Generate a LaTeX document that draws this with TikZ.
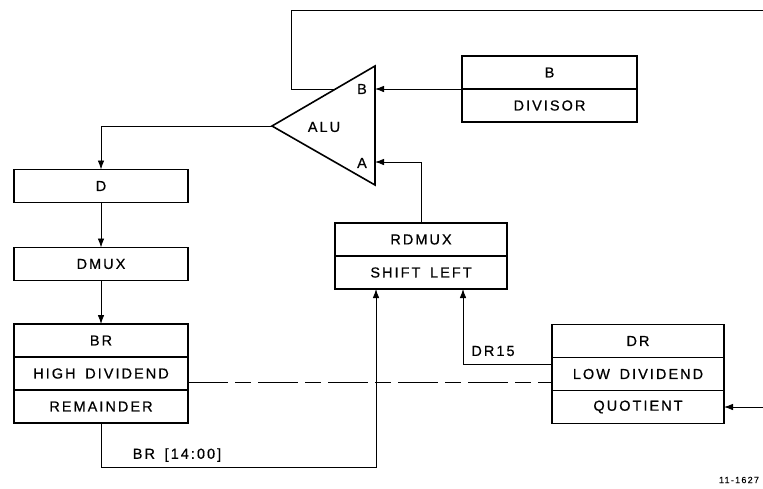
\documentclass[tikz,border=0pt]{standalone}
\usepackage{fontspec}
\setmainfont{Liberation Sans}[LetterSpace=14,FakeBold=0.6,WordSpace=1.6]
\usetikzlibrary{arrows.meta}
\tikzset{
  cell/.style  = {draw,line width=1.6pt,minimum height=33pt,inner sep=0pt,outer sep=0pt,
                  font=\fontsize{14.5}{16}\selectfont},
  wire/.style  = {line width=0.8pt},
  arr/.style   = {wire,-{Latex[length=9pt,width=6.5pt]}},
  dwire/.style = {wire,dash pattern=on 40pt off 7pt on 16pt off 7pt},
  tag/.style   = {inner sep=1pt,font=\fontsize{14.5}{16}\selectfont}
}

\begin{document}
\begin{tikzpicture}[x=1pt,y=-1pt]
  \useasboundingbox (0,0) rectangle (763,488);
  % ALU
  \coordinate (aluTip) at (272,126);
  \coordinate (aluTop) at (375,66);
  \coordinate (aluBot) at (375,185);
  \coordinate (aluB)   at (375,89);
  \coordinate (aluA)   at (375,162);
  \coordinate (aluFb)  at (335.5,89);
  \draw[line width=1.6pt,line join=miter] (aluTip) -- (aluTop) -- (aluBot) -- cycle;
  \node[tag] (aluName) at (324,127) {ALU};
  \node[tag,anchor=east] (aluBName) at (368,89) {B};
  \node[tag,anchor=east] (aluAName) at (368,163) {A};
  % registers
  \node[cell,minimum width=175pt] (b1) at (549.5,72.5) {B};
  \node[cell,minimum width=175pt] (b2) at (549.5,105.5) {DIVISOR};
  \node[cell,minimum width=174pt] (d) at (101,186) {D};
  \node[cell,minimum width=174pt] (dmux) at (101,264) {DMUX};
  \node[cell,minimum width=174pt] (br1) at (101,340.5) {BR};
  \node[cell,minimum width=174pt] (br2) at (101,373.5) {HIGH DIVIDEND};
  \node[cell,minimum width=174pt] (br3) at (101,406.5) {REMAINDER};
  \node[cell,minimum width=172pt] (rd1) at (421,239.5) {RDMUX};
  \node[cell,minimum width=172pt] (rd2) at (421,272.5) {SHIFT LEFT};
  \node[cell,minimum width=172pt] (dr1) at (638,341) {DR};
  \node[cell,minimum width=172pt] (dr2) at (638,374) {LOW DIVIDEND};
  \node[cell,minimum width=172pt] (dr3) at (638,407) {QUOTIENT};
  % connectors
  \coordinate (topRun) at (763,10);
  \draw[wire] (aluFb) -- (291,89) |- (topRun);
  \draw[arr] (b1.south west) -- (aluB);
  \draw[arr] (rd1.north) |- (aluA);
  \draw[arr] (aluTip) -| (d.north);
  \draw[arr] (d) -- (dmux);
  \draw[arr] (dmux) -- (br1);
  \coordinate (brTurn) at (376,467);
  \draw[arr] (br3.south) |- (brTurn) -- (brTurn |- rd2.south);
  \node[tag] (brBits) at (177,455) {BR [14:00]};
  \coordinate (dr15Out) at (552,364);
  \coordinate (dr15Turn) at (463,364);
  \draw[arr] (dr15Out) -- (dr15Turn) -- (dr15Turn |- rd2.south);
  \node[tag] (dr15Name) at (493,351) {DR15};
  \draw[dwire] ([yshift=-8.5pt]br2.east) -- ([yshift=-8.5pt]br2.east -| dr2.west);
  \coordinate (quoIn) at (763,407);
  \draw[arr] (quoIn) -- (dr3.east);
  \node[font=\fontsize{9}{10}\selectfont] (figNo) at (739,480) {11-1627};
\end{tikzpicture}
\end{document}
